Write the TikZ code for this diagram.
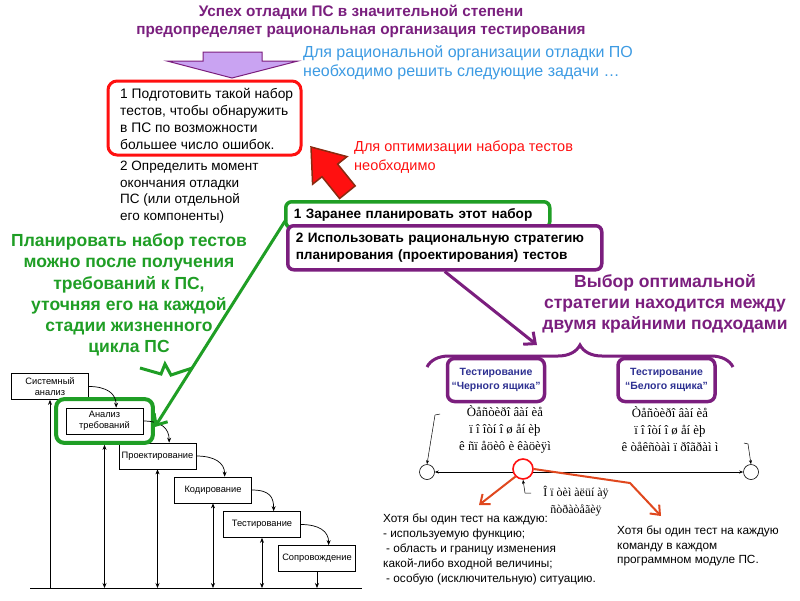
\documentclass[tikz,border=0pt]{standalone}
\usepackage{fontspec}
\setmainfont{Liberation Sans}
\newfontfamily\mojifont{Liberation Serif}
\usetikzlibrary{arrows.meta, calc, positioning, decorations.pathreplacing, fit}
\definecolor{DBGtitle}{HTML}{7A1F7E}
\definecolor{DBGpurple}{HTML}{7B1E7E}
\definecolor{DBGlilac}{HTML}{C9A3F2}
\definecolor{DBGgreen}{HTML}{1F9E25}
\definecolor{DBGred}{HTML}{FF1010}
\definecolor{DBGbrick}{HTML}{8A2A10}
\definecolor{DBGsky}{HTML}{3D9BE3}
\definecolor{DBGnavy}{HTML}{2E3192}
\definecolor{DBGorange}{HTML}{E0481E}

\begin{document}
\begin{tikzpicture}[x=1pt, y=-1pt,
      every node/.style={inner sep=0pt},
      wfbox/.style={draw, line width=0.7pt, minimum width=77pt, minimum height=26pt,
         align=center, font=\fontsize{9.3}{10.5}\selectfont},
      wfarr/.style={line width=0.7pt, -{Stealth[length=5pt, width=4pt]}},
      wfboth/.style={line width=0.7pt, {Stealth[length=5pt, width=4pt]}-{Stealth[length=5pt, width=4pt]}},
      tbox/.style={draw=DBGpurple, line width=3.5pt, rounded corners=7pt, minimum width=97pt,
         minimum height=43pt, align=center, text=DBGnavy, font=\bfseries\fontsize{10.5}{14}\selectfont},
      moji/.style={align=center, font=\mojifont\fontsize{12.8}{17}\selectfont},
      thinarr/.style={line width=0.5pt, -{Stealth[length=4pt, width=3pt]}},
      orarr/.style={DBGorange, line width=2pt, -{Straight Barb[length=8pt, width=13pt]}},
      bigarr/.style={line width=3pt, -{Straight Barb[length=9pt, width=16pt]}}
   ]
   \fill[white] (0,0) rectangle (800,600);
   \useasboundingbox (0,0) rectangle (800,600);

   % title and the two hints
   \node[font=\bfseries\fontsize{15.3}{18}\selectfont, text=DBGtitle, align=center] (title) at (361,21)
      {Успех отладки ПС в значительной степени\\предопределяет рациональная организация тестирования};
   \draw[draw=DBGpurple, fill=DBGlilac, line width=1pt] (203,52) -- (262,52) -- (262,61) -- (298,61)
      -- (232,78) -- (167,61) -- (203,61) -- cycle;
   \node[anchor=west, align=left, text=DBGsky, font=\fontsize{16}{19}\selectfont] (hint) at (303,62.5)
      {Для рациональной организации отладки ПО\\необходимо решить следующие задачи …};

   \draw[DBGred, line width=3pt, rounded corners=9pt] (108,81) rectangle (301,155);
   \node[anchor=west, align=left, font=\fontsize{13.8}{17}\selectfont] (task1) at (120,118.5)
      {1 Подготовить такой набор\\тестов, чтобы обнаружить\\в ПС по возможности\\большее число ошибок.};
   \node[anchor=west, align=left, font=\fontsize{13.5}{16.5}\selectfont] (task2) at (120,192)
      {2 Определить момент\\окончания отладки\\ПС (или отдельной\\его компоненты)};

   % red block arrow
   \draw[fill=DBGred, draw=DBGbrick, line width=1.5pt, line join=miter] (311,147) -- (312.6,184.2)
      -- (322,176.7) -- (339.6,198.5) -- (355.2,185.9) -- (337.6,164.1) -- (347,156.6) -- cycle;
   \node[anchor=west, align=left, text=DBGred, font=\fontsize{14.5}{19}\selectfont] (optnote) at (354,157.5)
      {Для оптимизации набора тестов\\необходимо};

   % the two planning steps
   \node[draw=DBGgreen, line width=3.5pt, rounded corners=6pt, fill=white, anchor=north west,
      text width=248pt, inner xsep=8pt, minimum height=26pt, align=left,
      font=\bfseries\fontsize{13.6}{17}\selectfont] (plan1) at (284,200) {1 Заранее планировать этот набор};
   \node[draw=DBGpurple, line width=3.5pt, rounded corners=6pt, fill=white, anchor=north west,
      text width=298pt, inner xsep=8pt, minimum height=44pt, align=left,
      font=\bfseries\fontsize{13.6}{17}\selectfont] (strat) at (286,224)
      {2 Использовать рациональную стратегию\\планирования (проектирования) тестов};

   \node[text=DBGgreen, align=center, font=\bfseries\fontsize{17.5}{21.2}\selectfont] (plannote) at (129,295)
      {Планировать набор тестов\\можно после получения\\требований к ПС,\\уточняя его на каждой\\стадии жизненного\\цикла ПС};

   % waterfall
   \node[wfbox] (sys) at (50,386.5) {Системный\\анализ};
   \node[wfbox] (req) at (104.5,421) {Анализ\\требований};
   \node[wfbox] (des) at (157.5,456) {Проектирование};
   \node[wfbox] (cod) at (213,490) {Кодирование};
   \node[wfbox] (tst) at (262,524.5) {Тестирование};
   \node[wfbox] (sup) at (317,558.5) {Сопровождение};
   \node[draw=DBGgreen, line width=4pt, rounded corners=8pt, fit=(req), inner xsep=9.5pt,
      inner ysep=8.5pt] (reqhl) {};
   \coordinate (gnd) at (30,588);
   \coordinate (gndend) at (362,588);
   \draw[line width=1pt] (gnd) -- (gndend);
   \draw[wfarr] (sys.south |- gnd) -- (sys.south);
   \draw[wfboth] (req.south |- reqhl.south) -- (req.south |- gnd);
   \foreach \b in {des, cod, tst}
      \draw[wfboth] (\b.south) -- (\b.south |- gnd);
   \draw[wfarr] (sup.south) -- (sup.south |- gnd);
   \foreach \a/\b in {sys/req, req/des, des/cod, cod/tst, tst/sup}
      \draw[wfarr] (\a.east) .. controls +(18,0) and +(0,-14) .. ($(\b.north west)!0.65!(\b.north east)$);

   % green pointer with its zigzag
   \coordinate (gstart) at ($(plan1.south west)+(2,-10)$);
   \coordinate (gtip) at ($(reqhl.east)+(0,6)$);
   \draw[DBGgreen, bigarr] (gstart) -- (gtip);
   \draw[DBGgreen, line width=3pt] (140,368) -- (161,374) -- (165,364) -- (171,375)
      -- ($(gstart)!0.716!(gtip)$);

   % strategy choice
   \coordinate (bracetip) at (537,345);
   \draw[DBGpurple, bigarr] (strat.south) -- (bracetip);
   \node[text=DBGpurple, align=center, font=\bfseries\fontsize{17.5}{21}\selectfont] (choice) at (665,304)
      {Выбор оптимальной\\стратегии находится между\\двумя крайними подходами};
   \draw[DBGpurple, line width=3pt, decorate, decoration={brace, amplitude=22pt}] (427,367) -- (733,367);

   \node[tbox] (black) at (496,380) {Тестирование\\“Черного ящика”};
   \node[tbox] (white) at (666.5,380) {Тестирование\\“Белого ящика”};
   \node[moji] (spec) at (505,429) {Òåñòèðî âàí èå\\ï î îòí î ø åí èþ\\ê ñï åöèô è êàöèÿì};
   \node[moji] (prog) at (670,429) {Òåñòèðî âàí èå\\ï î îòí î ø åí èþ\\ê òåêñòàì ï ðîãðàì ì};

   % scale between the two approaches
   \node[circle, draw, line width=0.6pt, minimum size=15pt, fill=white] (lc) at (427,472) {};
   \node[circle, draw, line width=0.6pt, minimum size=15pt, fill=white] (rc) at (751,472) {};
   \draw[line width=0.5pt, {Stealth[length=4pt, width=3pt]}-{Stealth[length=4pt, width=3pt]}] (lc) -- (rc);
   \node[circle, draw=DBGred, line width=1.6pt, minimum size=20pt, fill=white] (oc) at (523,469) {};
   \coordinate (specpt) at (440,414);
   \draw[thinarr] (specpt) -- ++(-5,1) -- (lc.north);
   \coordinate (progpt) at (744,443);
   \draw[thinarr] (progpt) -- ++(4,1) -- (rc.north);
   \coordinate (optpt) at (531,493);
   \draw[thinarr] (optpt) -- ++(-6,0) -- (oc.south);
   \node[moji, font=\mojifont\fontsize{12}{17}\selectfont] (opt) at (576,501) {Î ï òèì àëüí àÿ\\ñòðàòåãèÿ};

   \coordinate (blackfor) at (479,505);
   \draw[orarr] (oc.south west) -- (blackfor);
   \coordinate (whitefor) at (661,516);
   \draw[orarr] (oc.east) -- (630,483) -- (whitefor);
   \node[anchor=west, align=left, font=\fontsize{11.8}{15}\selectfont] (blacktxt) at (383,549)
      {Хотя бы один тест на каждую:\\- используемую функцию;\\\hspace*{3pt}- область и границу изменения\\какой-либо входной величины;\\\hspace*{3pt}- особую (исключительную) ситуацию.};
   \node[anchor=west, align=left, font=\fontsize{11.8}{14.5}\selectfont] (whitetxt) at (617,546)
      {Хотя бы один тест на каждую\\команду в каждом\\программном модуле ПС.};
\end{tikzpicture}
\end{document}
